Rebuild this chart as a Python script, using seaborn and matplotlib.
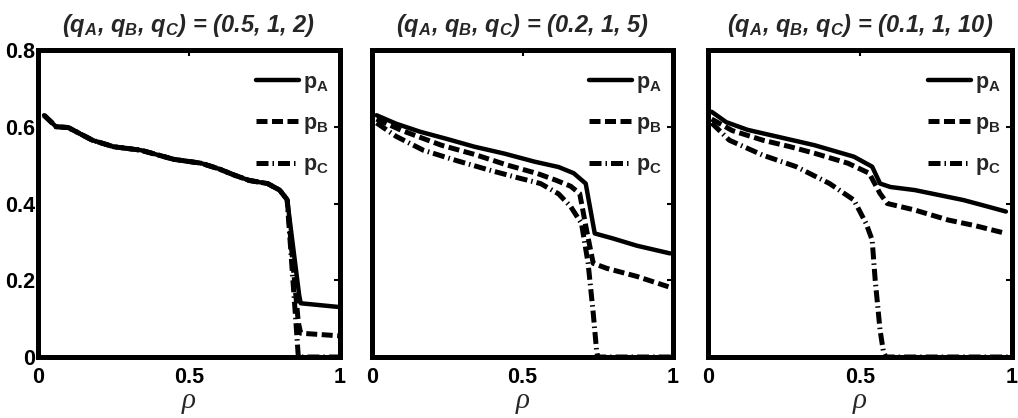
import matplotlib
matplotlib.use("Agg")
import matplotlib.pyplot as plt
import seaborn as sns

# ------------------------------
# Data
# ------------------------------
titles = ["(0.5, 1, 2)", "(0.2, 1, 5)", "(0.1, 1, 10)"]

# panel 1: (qA, qB, qC) = (0.5, 1, 2)
p1_x_common = [0.02, 0.06, 0.10, 0.18, 0.25, 0.34, 0.45, 0.54, 0.60, 0.65, 0.70, 0.76, 0.80, 0.825]
p1_y_common = [0.630, 0.600, 0.598, 0.565, 0.548, 0.539, 0.515, 0.505, 0.490, 0.474, 0.460, 0.452, 0.435, 0.410]
p1_a_x = p1_x_common + [0.865, 0.87, 1.0]
p1_a_y = p1_y_common + [0.16, 0.140, 0.130]
p1_b_x = p1_x_common + [0.862, 0.87, 1.0]
p1_b_y = p1_y_common + [0.09, 0.062, 0.055]
p1_c_x = p1_x_common + [0.855, 0.862, 1.0]
p1_c_y = p1_y_common + [0.08, 0.0, 0.0]

# panel 2: (qA, qB, qC) = (0.2, 1, 5)
p2_a_x = [0.015, 0.08, 0.16, 0.25, 0.34, 0.44, 0.54, 0.62, 0.67, 0.71, 0.74, 0.80, 0.88, 0.99]
p2_a_y = [0.630, 0.608, 0.587, 0.568, 0.548, 0.530, 0.509, 0.495, 0.479, 0.452, 0.322, 0.309, 0.290, 0.270]
p2_b_x = [0.015, 0.10, 0.23, 0.34, 0.45, 0.55, 0.61, 0.66, 0.69, 0.713, 0.735, 0.78, 0.88, 0.985]
p2_b_y = [0.620, 0.590, 0.552, 0.528, 0.500, 0.478, 0.461, 0.445, 0.426, 0.330, 0.244, 0.231, 0.210, 0.183]
p2_c_x = [0.015, 0.08, 0.17, 0.28, 0.39, 0.48, 0.56, 0.62, 0.66, 0.696, 0.718, 0.735, 0.746, 0.75, 1.0]
p2_c_y = [0.610, 0.575, 0.539, 0.512, 0.487, 0.468, 0.452, 0.425, 0.392, 0.348, 0.244, 0.114, 0.018, 0.0, 0.0]

# panel 3: (qA, qB, qC) = (0.1, 1, 10)
p3_a_x = [0.012, 0.06, 0.13, 0.24, 0.35, 0.48, 0.54, 0.566, 0.60, 0.68, 0.76, 0.84, 0.92, 0.98]
p3_a_y = [0.639, 0.612, 0.592, 0.572, 0.552, 0.522, 0.496, 0.452, 0.443, 0.435, 0.422, 0.409, 0.392, 0.379]
p3_b_x = [0.012, 0.08, 0.18, 0.27, 0.35, 0.46, 0.53, 0.566, 0.59, 0.68, 0.79, 0.88, 0.98]
p3_b_y = [0.620, 0.590, 0.565, 0.548, 0.531, 0.505, 0.479, 0.426, 0.400, 0.383, 0.357, 0.342, 0.322]
p3_c_x = [0.012, 0.07, 0.18, 0.29, 0.40, 0.48, 0.52, 0.54, 0.55, 0.566, 0.577, 0.585, 1.0]
p3_c_y = [0.610, 0.565, 0.526, 0.496, 0.452, 0.409, 0.348, 0.305, 0.200, 0.070, 0.014, 0.0, 0.0]

panels = [
    [(p1_a_x, p1_a_y), (p1_b_x, p1_b_y), (p1_c_x, p1_c_y)],
    [(p2_a_x, p2_a_y), (p2_b_x, p2_b_y), (p2_c_x, p2_c_y)],
    [(p3_a_x, p3_a_y), (p3_b_x, p3_b_y), (p3_c_x, p3_c_y)],
]
labels = [r"p$_\mathrm{A}$", r"p$_\mathrm{B}$", r"p$_\mathrm{C}$"]
styles = ["-", (0, (2.2, 0.9)), (0, (2.4, 0.8, 0.3, 0.8))]
widths = [3.2, 3.6, 3.6]

# ------------------------------
# Style
# ------------------------------
sns.set_theme(style="white")
plt.rcParams["font.family"] = ["Liberation Sans", "DejaVu Sans"]
plt.rcParams["font.weight"] = "bold"
plt.rcParams["mathtext.fontset"] = "custom"
plt.rcParams["mathtext.rm"] = "Liberation Sans:bold"
plt.rcParams["mathtext.it"] = "Liberation Sans:italic:bold"
plt.rcParams["mathtext.bf"] = "Liberation Sans:bold"

W, H = 1018, 418
fig = plt.figure(figsize=(W / 100, H / 100), dpi=100)
lefts = [38, 372, 708]
axw = [302, 301, 304]

for i, ax_left in enumerate(lefts):
    ax = fig.add_axes([ax_left / W, 61 / H, axw[i] / W, 307 / H])
    for (xs, ys), lab, ls, lw in zip(panels[i], labels, styles, widths):
        sns.lineplot(x=xs, y=ys, ax=ax, color="black", linestyle=ls, lw=lw,
                     sort=False, label=lab, estimator=None)
    ax.set_xlim(0, 1)
    ax.set_ylim(0, 0.8)
    ax.set_xticks([0, 0.5, 1])
    ax.set_xticklabels(["0", "0.5", "1"])
    ax.set_yticks([0, 0.2, 0.4, 0.6, 0.8])
    if i == 0:
        ax.set_yticklabels(["0", "0.2", "0.4", "0.6", "0.8"])
    else:
        ax.set_yticklabels([])
    ax.tick_params(direction="in", length=4, width=1.5, top=True, right=True,
                   labelsize=15.5, colors="black")
    ax.tick_params(axis="x", pad=7)
    ax.tick_params(axis="y", pad=2)
    for lbl in ax.get_xticklabels() + ax.get_yticklabels():
        lbl.set_fontweight("bold")
    for sp in ax.spines.values():
        sp.set_linewidth(3.6)
        sp.set_color("black")
    ax.set_xlabel("ρ", fontsize=21, labelpad=0, family="Liberation Serif",
                  fontstyle="italic", fontweight="normal")
    ax.set_title(r"(q$_{A}$, q$_{B}$, q$_{C}$) = " + titles[i],
                 fontsize=17, fontweight="bold", fontstyle="italic", pad=13)
    leg = ax.legend(loc="upper right", bbox_to_anchor=(1.035, 1.0), frameon=False,
                    fontsize=15.5, handlelength=2.0, handletextpad=0.2,
                    labelspacing=0.85, borderaxespad=0.6)
    for t in leg.get_texts():
        t.set_fontweight("bold")

fig.savefig("out.png", dpi=100)
